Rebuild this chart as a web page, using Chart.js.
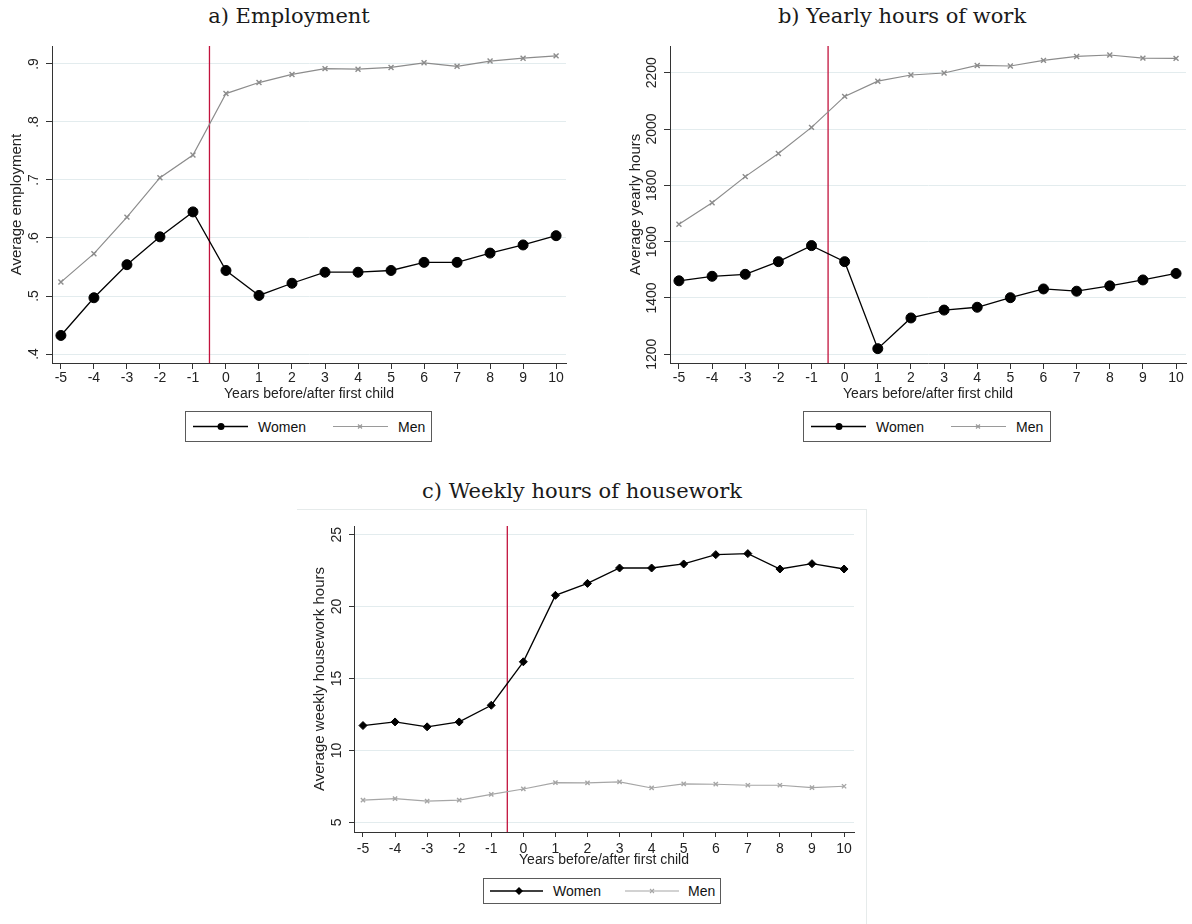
<!DOCTYPE html>
<html lang="en">
<head>
<meta charset="UTF-8">
<title>Before and after first child</title>
<script src="https://cdn.jsdelivr.net/npm/chart.js"></script>
<style>
  body { margin:0; background:#fff; width:1192px; height:924px; position:relative; overflow:hidden; font-family:"Liberation Sans", Arial, sans-serif; }
  canvas { position:absolute; }
  .ttl { position:absolute; font-family:"DejaVu Serif", serif; font-size:21px; color:#1a1a1a; transform:translate(-50%,-50%); white-space:nowrap; }
  .leg { position:absolute; border:1px solid #5a5a5a; box-sizing:border-box; }
  .leg svg { position:absolute; left:0; top:0; }
  .leg span { position:absolute; font-size:14px; color:#111; line-height:1; top:50%; transform:translateY(-50%); }
  .frame { position:absolute; left:297px; top:509px; width:570px; height:420px; border-top:1px solid #e6ebeb; border-right:1px solid #e6ebeb; box-sizing:border-box; }
</style>
</head>
<body>
  <div class="frame"></div>

  <div class="ttl" style="left:289px;top:16px">a) Employment</div>
  <div class="ttl" style="left:902px;top:16px">b) Yearly hours of work</div>
  <div class="ttl" style="left:582px;top:491px">c) Weekly hours of housework</div>

  <canvas id="empChart" width="580" height="365" style="left:0;top:40px"></canvas>
  <canvas id="hoursChart" width="580" height="365" style="left:612px;top:40px"></canvas>
  <canvas id="houseChart" width="568" height="350" style="left:298px;top:520px"></canvas>

  <!-- legends -->
  <div class="leg" style="left:185px;top:411px;width:247px;height:31px">
    <svg width="247" height="31">
      <line x1="7" y1="14.5" x2="62" y2="14.5" stroke="#000" stroke-width="1.3"/>
      <circle cx="35" cy="14.5" r="3.5" fill="#000"/>
      <line x1="147" y1="14.5" x2="202" y2="14.5" stroke="#9a9a9a" stroke-width="1.2"/>
      <path d="M172 12.5 l4 4 M176 12.5 l-4 4" stroke="#9a9a9a" stroke-width="1.2"/>
    </svg>
    <span style="left:72px">Women</span><span style="left:212px">Men</span>
  </div>
  <div class="leg" style="left:803px;top:411px;width:248px;height:31px">
    <svg width="248" height="31">
      <line x1="7" y1="14.5" x2="62" y2="14.5" stroke="#000" stroke-width="1.3"/>
      <circle cx="35" cy="14.5" r="3.5" fill="#000"/>
      <line x1="147" y1="14.5" x2="202" y2="14.5" stroke="#9a9a9a" stroke-width="1.2"/>
      <path d="M172 12.5 l4 4 M176 12.5 l-4 4" stroke="#9a9a9a" stroke-width="1.2"/>
    </svg>
    <span style="left:72px">Women</span><span style="left:212px">Men</span>
  </div>
  <div class="leg" style="left:483px;top:878px;width:238px;height:26px">
    <svg width="238" height="26">
      <line x1="6" y1="12" x2="59" y2="12" stroke="#000" stroke-width="1.3"/>
      <path d="M35 8 L39 12 L35 16 L31 12 Z" fill="#000"/>
      <line x1="141" y1="12" x2="195" y2="12" stroke="#a6a6a6" stroke-width="1.2"/>
      <path d="M166 10 l4 4 M170 10 l-4 4" stroke="#a6a6a6" stroke-width="1.1"/>
    </svg>
    <span style="left:69px">Women</span><span style="left:204px">Men</span>
  </div>

<script>
// years relative to first child
const years = [-5,-4,-3,-2,-1,0,1,2,3,4,5,6,7,8,9,10];
const birthLine = -0.5;

// a) employment
const empWomen = [0.432,0.497,0.554,0.602,0.645,0.544,0.501,0.522,0.541,0.541,0.544,0.558,0.558,0.574,0.588,0.604];
const empMen   = [0.524,0.573,0.636,0.704,0.743,0.849,0.868,0.882,0.892,0.891,0.894,0.902,0.896,0.905,0.910,0.914];
const empTicks = [0.4,0.5,0.6,0.7,0.8,0.9];
const empTickLabels = ['.4','.5','.6','.7','.8','.9'];

// b) yearly hours
const hoursWomen = [1461,1477,1484,1529,1586,1529,1220,1329,1357,1367,1401,1432,1424,1443,1464,1487];
const hoursMen   = [1662,1738,1831,1913,2006,2116,2170,2192,2199,2226,2224,2244,2258,2263,2252,2251];
const hoursTicks = [1200,1400,1600,1800,2000,2200];
const hoursTickLabels = ['1200','1400','1600','1800','2000','2200'];

// c) weekly housework
const houseWomen = [11.73,11.98,11.64,11.98,13.14,16.16,20.78,21.61,22.68,22.68,22.96,23.61,23.68,22.61,22.98,22.61];
const houseMen   = [6.55,6.65,6.48,6.55,6.95,7.32,7.76,7.74,7.81,7.39,7.67,7.65,7.58,7.58,7.41,7.51];
const houseTicks = [5,10,15,20,25];
const houseTickLabels = ['5','10','15','20','25'];

const sans = '"Liberation Sans", Arial, sans-serif';

// red xline + rotated y labels (stata style)
const stataExtras = {
  id: 'stataExtras',
  beforeDatasetsDraw(chart, args, opts) {
    const {ctx, chartArea, scales} = chart;
    const px = scales.x.getPixelForValue(opts.vline);
    ctx.save();
    ctx.strokeStyle = '#c2123c';
    ctx.lineWidth = 1.3;
    ctx.beginPath();
    ctx.moveTo(px, chartArea.top);
    ctx.lineTo(px, chartArea.bottom);
    ctx.stroke();
    ctx.restore();
  },
  afterDraw(chart, args, opts) {
    const ctx = chart.ctx;
    const y = chart.scales.y;
    ctx.save();
    ctx.font = '14px ' + sans;
    ctx.fillStyle = '#222';
    ctx.textAlign = 'center';
    ctx.textBaseline = 'middle';
    y.ticks.forEach((t, i) => {
      const py = y.getPixelForValue(t.value);
      ctx.save();
      ctx.translate(y.right - opts.labelGap, py);
      ctx.rotate(-Math.PI / 2);
      ctx.fillText(opts.labels[i], 0, 0);
      ctx.restore();
    });
    ctx.restore();
  }
};

function drawPanel(id, cfg) {
  new Chart(document.getElementById(id), {
    type: 'line',
    data: {
      datasets: [
        {
          label: 'Women',
          data: years.map((x, i) => ({x: x, y: cfg.women[i]})),
          borderColor: '#000', backgroundColor: '#000', borderWidth: 1.3,
          pointStyle: cfg.womenPoint, pointRadius: cfg.womenRadius, pointBorderWidth: 1,
          pointBackgroundColor: '#000', tension: 0
        },
        {
          label: 'Men',
          data: years.map((x, i) => ({x: x, y: cfg.men[i]})),
          borderColor: cfg.menColor, backgroundColor: cfg.menColor, borderWidth: 1.2,
          pointStyle: 'crossRot', pointRadius: cfg.menRadius, pointBorderWidth: 1.4, tension: 0
        }
      ]
    },
    options: {
      responsive: false, animation: false, devicePixelRatio: 1,
      layout: {padding: cfg.pad},
      plugins: {
        legend: {display: false},
        tooltip: {enabled: false},
        stataExtras: {vline: birthLine, labels: cfg.tickLabels, labelGap: cfg.labelGap}
      },
      scales: {
        x: {
          type: 'linear', min: cfg.xMin, max: cfg.xMax,
          afterBuildTicks: s => { s.ticks = years.map(v => ({value: v})); },
          afterFit: s => { s.height = cfg.xHeight; },
          ticks: {color: '#222', font: {family: sans, size: 14}, padding: cfg.xTickPad, maxRotation: 0, autoSkip: false,
                  callback: v => String(v)},
          grid: {drawOnChartArea: false, drawTicks: true, tickLength: cfg.tickLen, tickColor: '#333'},
          border: {color: '#333', width: 1},
          title: {display: true, text: 'Years before/after first child', color: '#222',
                  font: {family: sans, size: 14}, padding: {top: 0, bottom: cfg.xTitlePad}}
        },
        y: {
          type: 'linear', min: cfg.yMin, max: cfg.yMax,
          afterBuildTicks: s => { s.ticks = cfg.ticks.map(v => ({value: v})); },
          afterFit: s => { s.width = cfg.yWidth; },
          ticks: {display: false},
          grid: {color: '#e3ecee', lineWidth: 1, drawTicks: true, tickLength: cfg.tickLen, tickColor: '#333'},
          border: {color: '#333', width: 1},
          title: {display: true, text: cfg.yTitle, color: '#222',
                  font: {family: sans, size: 15}, padding: {top: cfg.yTitlePad, bottom: 0}}
        }
      }
    },
    plugins: [stataExtras]
  });
}

drawPanel('empChart', {
  women: empWomen, men: empMen, ticks: empTicks, tickLabels: empTickLabels,
  yTitle: 'Average employment', yMin: 0.3845, yMax: 0.931, xMin: -5.27, xMax: 10.3,
  pad: {left: 0, top: 6, right: 14, bottom: 0}, yWidth: 52, xHeight: 42,
  tickLen: 6, xTickPad: 1, xTitlePad: 2.6, yTitlePad: 8, labelGap: 18,
  womenPoint: 'circle', womenRadius: 5, menColor: '#8c8c8c', menRadius: 3.5
});

drawPanel('hoursChart', {
  women: hoursWomen, men: hoursMen, ticks: hoursTicks, tickLabels: hoursTickLabels,
  yTitle: 'Average yearly hours', yMin: 1169, yMax: 2295, xMin: -5.27, xMax: 10.3,
  pad: {left: 0, top: 6, right: 6, bottom: 0}, yWidth: 58, xHeight: 42,
  tickLen: 6, xTickPad: 1, xTitlePad: 2.6, yTitlePad: 15, labelGap: 17.5,
  womenPoint: 'circle', womenRadius: 5, menColor: '#8c8c8c', menRadius: 3.5
});

drawPanel('houseChart', {
  women: houseWomen, men: houseMen, ticks: houseTicks, tickLabels: houseTickLabels,
  yTitle: 'Average weekly housework hours', yMin: 4.33, yMax: 25.6, xMin: -5.28, xMax: 10.31,
  pad: {left: 0, top: 6, right: 12, bottom: 0}, yWidth: 56, xHeight: 38,
  tickLen: 5, xTickPad: 3.6, xTitlePad: 1.6, yTitlePad: 12.7, labelGap: 17,
  womenPoint: 'rectRot', womenRadius: 4, menColor: '#a6a6a6', menRadius: 3
});
</script>
</body>
</html>
